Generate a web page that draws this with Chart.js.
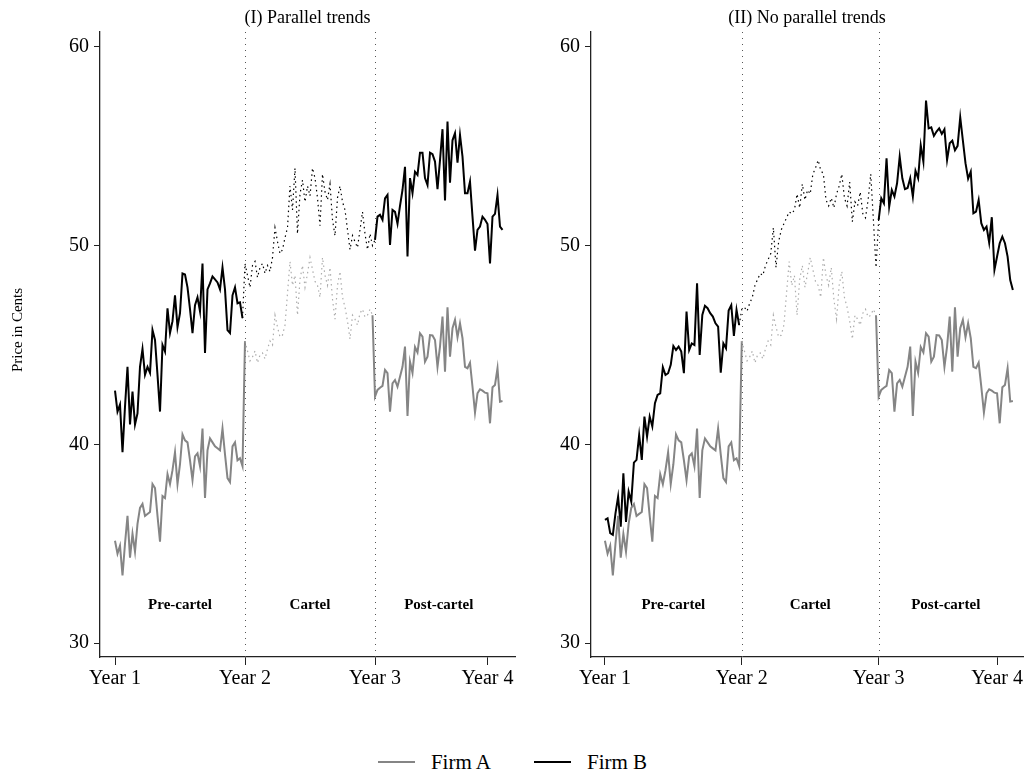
<!DOCTYPE html>
<html>
<head>
<meta charset="utf-8">
<title>Parallel trends</title>
<script src="https://cdn.jsdelivr.net/npm/chart.js@4.4.0/dist/chart.umd.min.js"></script>
<style>
	body {
		margin: 0;
		background: #fff;
		width: 1025px;
		height: 771px;
		position: relative;
		overflow: hidden;
		font-family: "Liberation Serif", "Times New Roman", serif;
	}
	#left-chart { position: absolute; left: 0; top: 0; }
	#right-chart { position: absolute; left: 520px; top: 0; }
	#legend {
		position: absolute;
		left: 0;
		top: 749px;
		width: 1025px;
		height: 26px;
		display: flex;
		justify-content: center;
		align-items: center;
		font-size: 21px;
		color: #000;
	}
	#legend .item {
		display: inline-flex;
		align-items: center;
		margin-right: 43px;
	}
	#legend .item:last-child { margin-right: 0; }
	#legend .swatch {
		display: inline-block;
		width: 37px;
		height: 0;
		border-top: 2px solid #000;
		margin-right: 16px;
	}
</style>
</head>
<body>
<canvas id="left-chart" width="520" height="700"></canvas>
<canvas id="right-chart" width="505" height="700"></canvas>
<div id="legend"></div>

<script>
// weekly prices, three years of 52 weeks (pre-cartel, cartel, post-cartel)
const yearTicks = [0, 52, 104, 149];
const yearLabels = ["Year 1", "Year 2", "Year 3", "Year 4"];
const periodNames = ["Pre-cartel", "Cartel", "Post-cartel"];
const periodCentres = [26, 78, 129.5];
const cartelStart = 52;
const cartelEnd = 103;
const seriesNames = ["Firm A", "Firm B"];
const panelTitles = ["(I) Parallel trends", "(II) No parallel trends"];

// Firm A is the same in both panels
const firmAPre = [
	35.15, 34.5, 34.9, 33.4, 35.0, 36.4, 34.3, 35.5, 34.6, 36.0,
	36.8, 37.0, 36.4, 36.5, 36.6, 38.0, 37.8, 36.4, 35.1, 37.4,
	37.3, 38.5, 38.0, 38.7, 39.6, 38.0, 39.0, 40.5, 40.2, 40.1,
	39.2, 38.2, 39.4, 39.55, 38.9, 40.8, 37.3, 39.7, 40.3, 40.1,
	39.9, 39.8, 39.7, 40.8, 39.5, 38.3, 38.1, 39.9, 40.1, 39.2,
	39.3, 38.9,
];
const firmACartel = [
	45.2, 44.7, 44.2, 44.4, 44.7, 44.1, 44.5, 44.6, 44.3, 44.8,
	45.2, 45.0, 46.5, 45.9, 45.4, 45.5, 46.0, 47.6, 49.2, 48.0,
	48.5, 46.5, 48.3, 49.0, 47.9, 48.6, 49.4, 48.8, 48.2, 48.0,
	47.4, 49.4, 48.5, 48.0, 48.9, 47.3, 46.3, 48.0, 48.7, 47.4,
	46.9, 46.2, 45.3, 46.5, 46.3, 46.0, 46.6, 46.8, 46.4, 46.5,
	46.8, 46.5,
];
const firmAPost = [
	42.4, 42.74, 42.85, 42.94, 43.74, 43.58, 41.65, 43.07, 43.24, 42.9,
	43.4, 43.9, 44.92, 41.43, 44.16, 43.6, 44.9, 44.63, 45.59, 45.42,
	44.16, 44.41, 45.5, 45.48, 45.25, 43.9, 44.92, 46.43, 43.66, 46.9,
	44.41, 45.84, 46.26, 45.39, 46.09, 45.34, 43.9, 43.83, 44.11, 42.9,
	41.6, 42.57, 42.77, 42.7, 42.6, 42.57, 41.06, 42.87, 42.99, 43.83,
	42.15, 42.18,
];

// Firm B, panel I
const firmB1Pre = [
	42.7, 41.65, 42.0, 39.6, 41.9, 43.9, 41.0, 42.65, 41.0, 41.56,
	43.9, 44.8, 43.5, 43.9, 43.6, 45.75, 45.25, 43.5, 41.65, 45.0,
	44.67, 46.85, 45.6, 46.2, 47.5, 45.9, 46.6, 48.6, 48.55, 47.9,
	46.8, 45.6, 47.0, 47.4, 46.7, 49.1, 44.6, 47.8, 48.1, 48.45,
	48.3, 48.15, 47.8, 48.9, 47.8, 45.75, 45.6, 47.5, 47.9, 47.1,
	47.15, 46.35,
];
const firmB1Cartel = [
	49.1, 48.5, 47.9, 49.0, 49.2, 48.4, 48.9, 49.1, 48.6, 49.0,
	48.7, 49.4, 50.9, 50.2, 49.6, 49.8, 50.4, 50.9, 53.0, 51.8,
	53.9, 50.6, 52.6, 53.3, 52.2, 53.0, 52.5, 53.9, 53.4, 52.4,
	51.0, 53.6, 52.7, 52.3, 53.1, 51.3, 50.5, 52.4, 53.0, 52.2,
	51.8, 50.8, 49.8, 50.5, 50.2, 49.9, 50.8, 51.7, 50.6, 49.8,
	50.6, 50.0,
];
const firmB1Post = [
	50.29, 51.46, 51.55, 51.3, 52.38, 52.55, 50.04, 51.8, 51.7, 51.1,
	52.0, 52.8, 53.97, 49.45, 53.4, 52.64, 53.72, 53.56, 54.68, 54.68,
	53.4, 53.05, 54.68, 54.6, 54.23, 52.84, 54.3, 55.86, 52.27, 56.24,
	53.17, 55.3, 55.66, 54.18, 55.57, 54.48, 52.64, 52.64, 53.22, 51.46,
	49.75, 50.79, 50.96, 51.46, 51.3, 51.09, 49.1, 51.46, 51.6, 52.55,
	50.96, 50.79,
];

// Firm B, panel II
const firmB2Pre = [
	36.2, 36.28, 35.53, 35.45, 36.53, 37.37, 35.86, 38.54, 36.1, 37.62,
	37.12, 39.08, 39.22, 40.47, 39.22, 41.4, 40.39, 41.4, 40.9, 42.07,
	42.49, 42.57, 43.88, 43.49, 43.58, 44.0, 44.95, 44.75, 44.92, 44.67,
	43.58, 46.68, 44.75, 45.08, 45.0, 48.1, 44.5, 46.51, 46.97, 46.85,
	46.6, 46.43, 46.09, 45.92, 43.61, 45.08, 44.84, 46.73, 47.0, 45.46,
	46.77, 46.0,
];
const firmB2Cartel = [
	46.8, 46.9, 46.7, 47.1, 47.4, 48.0, 48.3, 48.6, 48.5, 49.0,
	49.3, 49.6, 50.9, 48.9, 50.2, 50.8, 51.1, 51.4, 51.7, 51.6,
	51.8, 52.6, 51.9, 53.1, 52.3, 52.8, 52.6, 53.6, 53.9, 54.3,
	53.8, 53.6, 52.3, 52.0, 52.4, 51.9, 52.6, 53.0, 53.6, 52.4,
	52.0, 53.2, 51.2, 52.2, 52.0, 52.7, 51.6, 51.4, 52.3, 53.6,
	51.3, 48.9,
];
const firmB2Post = [
	51.29, 52.38, 52.13, 54.4, 51.96, 52.8, 52.47, 53.14, 54.48, 53.39,
	52.84, 52.9, 53.39, 52.47, 53.77, 53.39, 55.05, 54.23, 57.3, 55.9,
	55.95, 55.52, 55.74, 55.9, 55.62, 55.85, 54.31, 55.15, 55.28, 54.8,
	55.02, 56.46, 55.3, 54.15, 53.37, 53.72, 51.63, 51.71, 52.3, 51.13,
	50.79, 50.96, 50.15, 51.43, 48.78, 49.45, 50.12, 50.45, 50.12, 49.45,
	48.27, 47.77,
];

const serif = "'Liberation Serif', 'Times New Roman', serif";
const colorA = "#858585";
const colorACartel = "#adadad";
const colorB = "#000000";

function toPoints(values) {
	return values.map((v, i) => ({ x: i, y: v }));
}

// Firm A keeps solid jumps into and out of the cartel, Firm B does not
const dottedA = (ctx) => ctx.p0DataIndex >= cartelStart && ctx.p1DataIndex <= cartelEnd;
const dottedB = (ctx) => ctx.p1DataIndex >= cartelStart && ctx.p0DataIndex <= cartelEnd;

function dataset(label, values, color, dottedColor, isDotted) {
	return {
		label: label,
		data: toPoints(values),
		borderColor: color,
		borderWidth: 2,
		pointRadius: 0,
		tension: 0,
		fill: false,
		segment: {
			borderColor: (ctx) => (isDotted(ctx) ? dottedColor : undefined),
			borderDash: (ctx) => (isDotted(ctx) ? [1.5, 3.5] : undefined),
			borderWidth: (ctx) => (isDotted(ctx) ? 1.2 : undefined),
		},
	};
}

const overlay = {
	id: "overlay",
	beforeDatasetsDraw(chart, args, opts) {
		const { ctx, chartArea, scales } = chart;
		ctx.save();
		ctx.strokeStyle = "#555";
		ctx.lineWidth = 1;
		ctx.setLineDash([1, 5]);
		[cartelStart, cartelEnd + 1].forEach((w) => {
			const x = Math.round(scales.x.getPixelForValue(w)) + 0.5;
			ctx.beginPath();
			ctx.moveTo(x, chartArea.top);
			ctx.lineTo(x, chartArea.bottom);
			ctx.stroke();
		});
		ctx.restore();
	},
	afterDatasetsDraw(chart, args, opts) {
		const { ctx, chartArea, scales } = chart;
		ctx.save();
		ctx.fillStyle = "#000";
		ctx.textAlign = "center";
		ctx.textBaseline = "middle";
		ctx.font = "bold 15px " + serif;
		periodNames.forEach((name, i) => {
			ctx.fillText(name, scales.x.getPixelForValue(periodCentres[i]), scales.y.getPixelForValue(31.9));
		});
		ctx.font = "18px " + serif;
		ctx.fillText(opts.title, (chartArea.left + chartArea.right) / 2, 18);
		if (opts.yTitle) {
			ctx.font = "15px " + serif;
			ctx.translate(18, 330);
			ctx.rotate(-Math.PI / 2);
			ctx.fillText(opts.yTitle, 0, 0);
		}
		ctx.restore();
	},
};

function makeChart(id, title, firmB, axisWidth, xMin, xMax, padRight, yTitle) {
	const firmA = firmAPre.concat(firmACartel, firmAPost);
	return new Chart(document.getElementById(id), {
		type: "line",
		data: {
			datasets: [
				dataset(seriesNames[0], firmA, colorA, colorACartel, dottedA),
				dataset(seriesNames[1], firmB, colorB, colorB, dottedB),
			],
		},
		options: {
			responsive: false,
			animation: false,
			layout: { padding: { top: 32, right: padRight, left: 0, bottom: 0 } },
			plugins: {
				legend: { display: false },
				tooltip: { enabled: false },
				overlay: { title: title, yTitle: yTitle },
			},
			scales: {
				x: {
					type: "linear",
					min: xMin,
					max: xMax,
					afterBuildTicks: (scale) => {
						scale.ticks = yearTicks.map((v) => ({ value: v }));
					},
					afterFit: (scale) => {
						scale.height = 43;
					},
					ticks: {
						callback: (v) => yearLabels[yearTicks.indexOf(v)],
						font: { family: serif, size: 20 },
						color: "#000",
						padding: 2,
						maxRotation: 0,
						autoSkip: false,
					},
					grid: { drawOnChartArea: false, drawTicks: true, tickLength: 8, color: "#222" },
					border: { display: true, color: "#222", width: 1.3 },
				},
				y: {
					type: "linear",
					min: 29.3,
					max: 60.75,
					afterBuildTicks: (scale) => {
						scale.ticks = [30, 40, 50, 60].map((v) => ({ value: v }));
					},
					afterFit: (scale) => {
						scale.width = axisWidth;
					},
					ticks: {
						font: { family: serif, size: 20 },
						color: "#000",
						padding: 5,
					},
					grid: { drawOnChartArea: false, drawTicks: true, tickLength: 6, color: "#222" },
					border: { display: true, color: "#222", width: 1.3 },
				},
			},
		},
		plugins: [overlay],
	});
}

makeChart("left-chart", panelTitles[0], firmB1Pre.concat(firmB1Cartel, firmB1Post), 100, -6, 160, 5, "Price in Cents");
makeChart("right-chart", panelTitles[1], firmB2Pre.concat(firmB2Cartel, firmB2Post), 71, -5.3, 158.9, 0, null);

// legend under both panels
const legend = document.getElementById("legend");
[colorA, colorB].forEach((c, i) => {
	const item = document.createElement("span");
	item.className = "item";
	const swatch = document.createElement("span");
	swatch.className = "swatch";
	swatch.style.borderTopColor = c;
	item.appendChild(swatch);
	item.appendChild(document.createTextNode(seriesNames[i]));
	legend.appendChild(item);
});
</script>
</body>
</html>
